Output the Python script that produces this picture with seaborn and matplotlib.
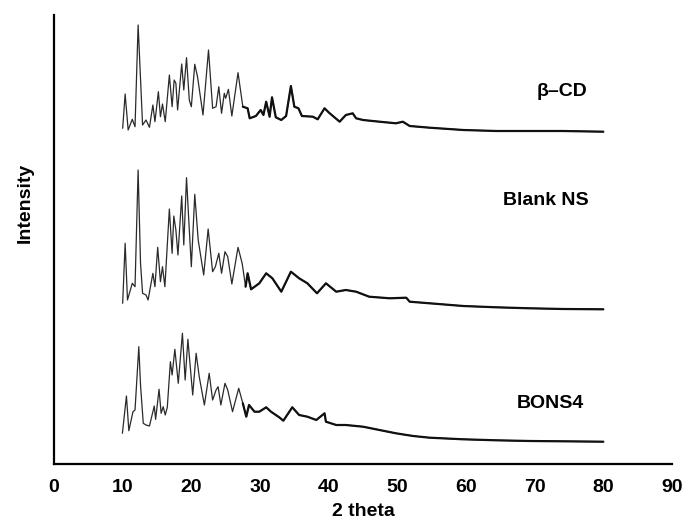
import numpy as np
import pandas as pd
import matplotlib
matplotlib.use("Agg")
import matplotlib.pyplot as plt
import seaborn as sns

# ---- data (2 theta, intensity above each trace's baseline) ----
bcd_x = [10.0, 10.36, 10.8, 11.4, 11.8, 12.25, 12.9, 13.4, 13.9, 14.4, 14.7, 15.2, 15.5, 15.8,
         16.2, 16.8, 17.2, 17.5, 17.75, 18.0, 18.6, 18.9, 19.3, 19.7, 20.0, 20.5, 20.9, 21.7,
         22.5, 23.1, 23.6, 24.0, 24.4, 24.8, 25.0, 25.4, 25.9, 26.8, 27.5, 28.2, 28.5, 29.4,
         30.1, 30.5, 30.9, 31.4, 31.75, 32.3, 33.1, 33.8, 34.5, 35.0, 35.6, 36.1, 37.7, 38.4,
         39.4, 40.1, 41.6, 42.5, 43.5, 44.0, 45.0, 47.4, 49.8, 50.8, 51.8, 54.7, 59.6, 64.4,
         69.3, 74.1, 80.0]
bcd_y = [5.7, 40, 4, 14.7, 7.3, 109, 9, 14, 6.7, 29, 12.3, 42.3, 17.3, 30,
         12.3, 59, 27.3, 54, 50.7, 24, 70, 44, 76.3, 34, 27.3, 69.7, 57.3, 19,
         84, 25.7, 27.3, 47.3, 20.7, 40.7, 35.7, 44.7, 18, 61.3, 27.3, 25.7, 15.7, 18,
         24, 19, 32.3, 17.3, 36.7, 16.7, 14, 18, 48, 27.3, 25.7, 18, 17.3, 14.7,
         25.7, 21, 12.3, 19, 20.7, 15.7, 14, 12.3, 10.7, 12.3, 8, 6.3, 4, 3,
         3, 3, 2.3]

blank_x = [10.0, 10.36, 10.7, 11.4, 11.8, 12.25, 12.6, 12.9, 13.4, 13.7, 14.4, 14.7, 15.1, 15.5,
           15.8, 16.15, 16.8, 17.2, 17.45, 17.75, 18.05, 18.6, 18.9, 19.3, 19.6, 20.0, 20.5,
           21.0, 21.8, 22.45, 23.1, 23.5, 24.0, 24.4, 24.9, 25.3, 25.9, 26.8, 27.4, 27.9, 28.2,
           28.7, 29.9, 30.9, 31.8, 33.1, 34.5, 35.7, 36.9, 38.3, 39.6, 41.1, 42.5, 44.0, 45.9,
           48.9, 51.3, 51.8, 54.7, 59.6, 64.4, 69.3, 74.1, 80.0]
blank_y = [8.7, 68.7, 12, 28.7, 25.3, 142, 49, 18.7, 17, 12, 38.7, 25.3, 64.7, 30.3,
           45.3, 25.3, 103, 58.7, 96, 82, 57, 116, 67, 134.3, 95.3, 45.3, 117.7,
           72, 37, 83, 40.3, 45.3, 58.7, 38.7, 60.3, 55.3, 28, 64.7, 48.7, 25.3, 38.7,
           22.7, 28.7, 38.7, 33.7, 20.3, 40.3, 33.7, 28.7, 18.7, 28.7, 20.3, 22, 20.3, 15.3,
           13.7, 14.3, 10.3, 8.7, 6, 4.7, 3.7, 3, 2.7]

bons_x = [9.96, 10.55, 10.9, 11.5, 11.8, 12.35, 12.6, 13.0, 13.4, 13.9, 14.6, 14.8, 15.3, 15.6,
          15.9, 16.2, 16.5, 16.95, 17.2, 17.6, 18.1, 18.7, 19.1, 19.5, 19.8, 20.2, 20.7, 21.15,
          21.9, 22.6, 23.1, 23.6, 23.9, 24.3, 24.9, 25.3, 26.0, 26.9, 27.5, 28.0, 28.4, 29.2,
          29.9, 30.9, 31.6, 32.8, 33.4, 34.7, 35.7, 36.9, 38.2, 39.4, 39.6, 41.1, 42.5, 45.0,
          47.4, 49.8, 52.3, 54.7, 59.6, 64.4, 69.3, 74.1, 80.0]
bons_y = [10.7, 48, 13.3, 32.3, 34, 97.3, 59, 20.7, 19, 18, 38, 24.7, 54.7, 30.7,
          37.3, 29, 36.7, 82.3, 69, 94.7, 60.7, 110.7, 64, 104.7, 80.7, 49, 90.7, 67.3,
          39, 70.7, 44, 54, 57.3, 39, 60.7, 54, 32.3, 55.7, 40.7, 27.3, 39, 32.3,
          32.3, 36.7, 32.3, 26.7, 23.3, 36.7, 29, 27.3, 24, 30.7, 22.3, 19, 19, 17.3,
          14, 10.7, 8, 6.3, 4.7, 3.7, 3, 2.7, 2.3]

names = ["β–CD", "Blank NS", "BONS4"]
offsets = [330, 152, 20]
x_ticks = [0, 10, 20, 30, 40, 50, 60, 70, 80, 90]

frames = []
for name, xs, ys, off in zip(names, [bcd_x, blank_x, bons_x], [bcd_y, blank_y, bons_y], offsets):
    frames.append(pd.DataFrame({"theta": xs, "intensity": np.array(ys) + off, "sample": name}))
df = pd.concat(frames, ignore_index=True)
tail = df[df["theta"] >= 27.5]

sns.set_theme(style="white")
plt.rcParams["font.family"] = ["Liberation Sans", "DejaVu Sans"]
plt.rcParams["text.color"] = "black"
plt.rcParams["axes.labelcolor"] = "black"
plt.rcParams["xtick.color"] = "black"

fig = plt.figure(figsize=(6.85, 5.25), dpi=100)
ax = fig.add_axes([54/685, 61/525, (672-54)/685, (464-15)/525])

sns.lineplot(data=df, x="theta", y="intensity", hue="sample", units="sample",
             estimator=None, sort=False, palette=["#2a2a2a"]*3, linewidth=0.9,
             legend=False, ax=ax)
# the noisy high-angle region appears as a thicker band in the reference
sns.lineplot(data=tail, x="theta", y="intensity", hue="sample", units="sample",
             estimator=None, sort=False, palette=["#111111"]*3, linewidth=1.6,
             legend=False, ax=ax)

ax.set_xlim(0, 90)
ax.set_ylim(0, 449)
ax.set_xticks(x_ticks)
ax.set_xticklabels([str(t) for t in x_ticks], fontsize=14, fontweight="bold")
ax.set_yticks([])
ax.tick_params(axis="x", length=0, pad=11, colors="black")
for s in ["top", "right"]:
    ax.spines[s].set_visible(False)
for s in ["left", "bottom"]:
    ax.spines[s].set_color("black")
    ax.spines[s].set_linewidth(1.6)
ax.set_xlabel("2 theta", fontsize=14, fontweight="bold", labelpad=5)
ax.set_ylabel("")
fig.text(25/685, 1 - 203/525, "Intensity", rotation=90, fontsize=14, fontweight="bold",
         ha="center", va="center")

label_pos = [(562, 91.7), (545.5, 200.7), (550, 403.3)]
for name, (px, py) in zip(names, label_pos):
    ax.text((px - 54) / (672 - 54) * 90, 464 - py, name,
            fontsize=14, fontweight="bold", ha="center", va="center")

fig.savefig("out.png", dpi=100)
